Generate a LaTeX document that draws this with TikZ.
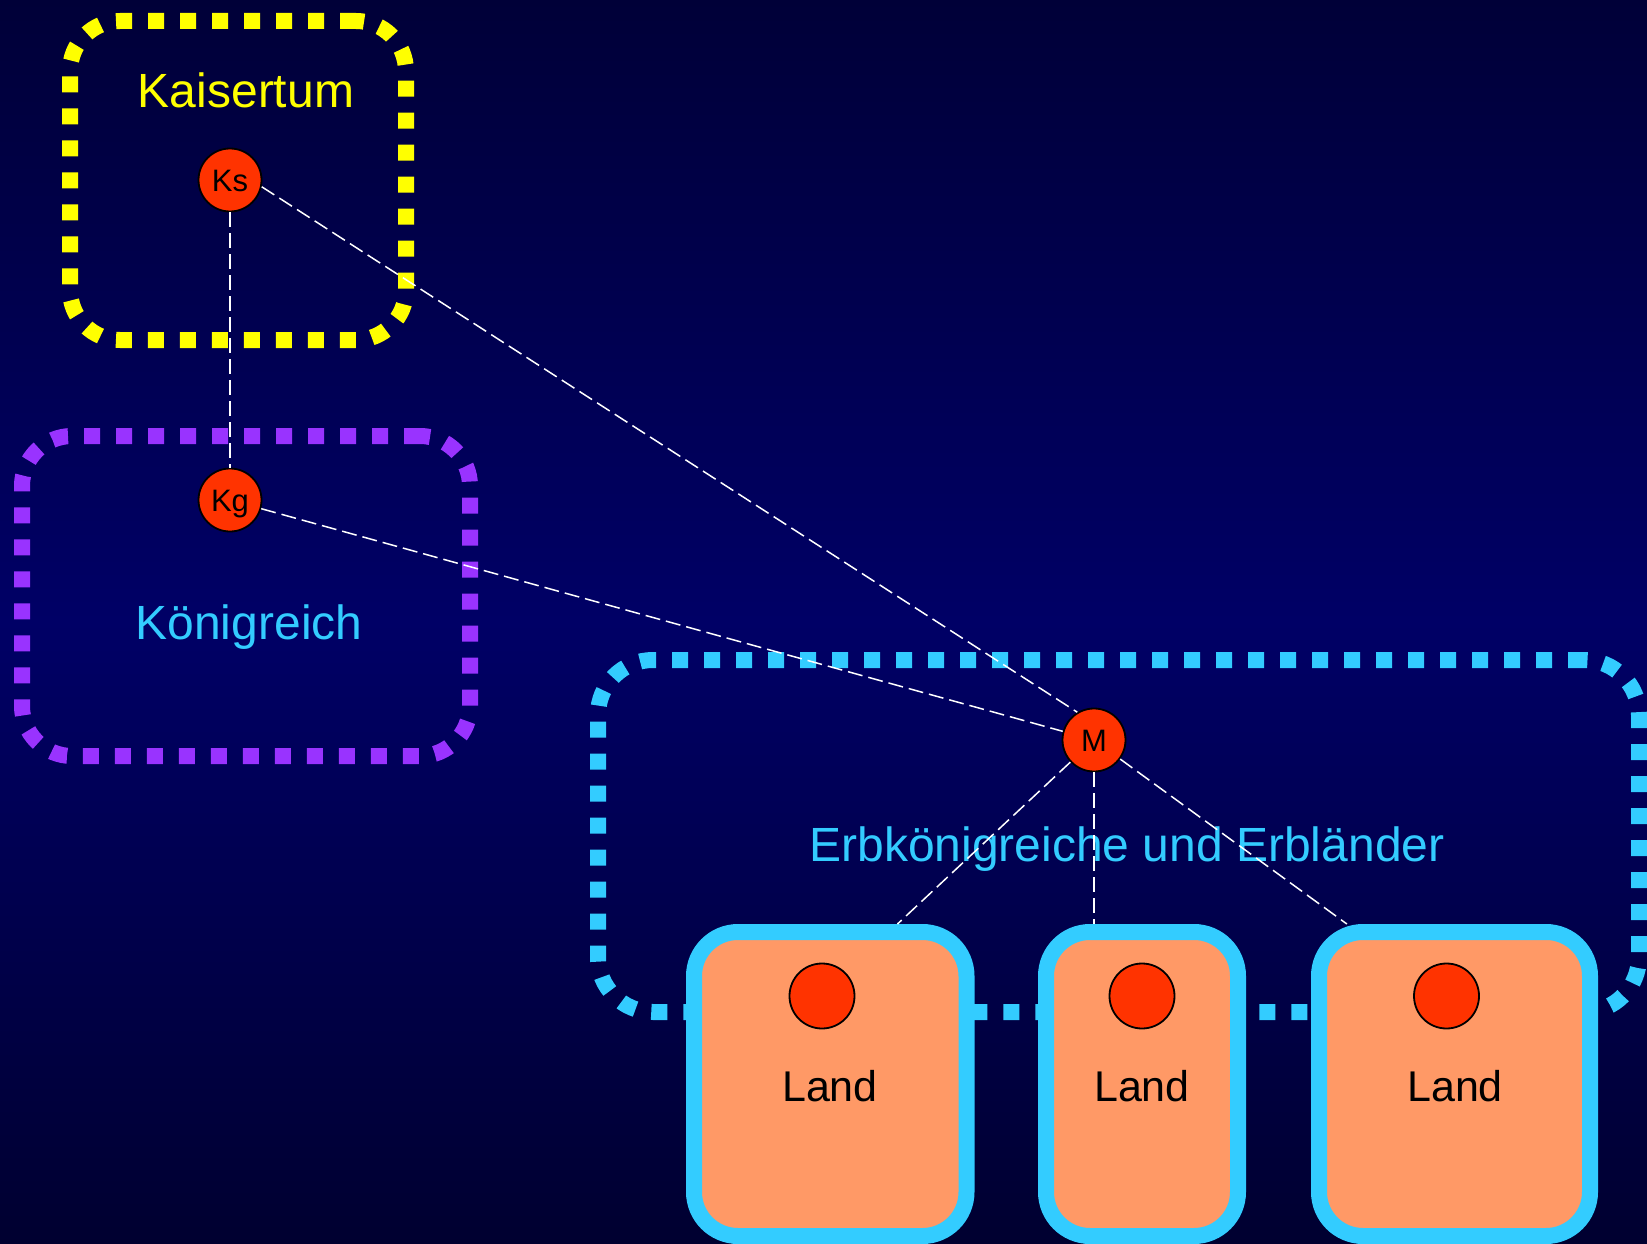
\documentclass[tikz,border=0pt]{standalone}
\usepackage{fontspec}
\setmainfont{Liberation Sans}
\usetikzlibrary{calc}
\definecolor{bgtop}{HTML}{000038}
\definecolor{bgmid}{HTML}{000066}
\definecolor{bgbot}{HTML}{000030}
\definecolor{yellowc}{HTML}{FFFF00}
\definecolor{purplec}{HTML}{9933FF}
\definecolor{cyanc}{HTML}{33CCFF}
\definecolor{redc}{HTML}{FF3300}
\definecolor{salmonc}{HTML}{FF9966}
\begin{document}
\begin{tikzpicture}[x=1pt,y=-1pt,
  dotbox/.style={draw, line width=16pt, dash pattern=on 16pt off 16pt, inner sep=0pt, outer sep=0pt},
  landbox/.style={draw=cyanc, fill=salmonc, line width=16pt, rounded corners=44pt, inner sep=0pt, minimum height=304pt},
  dot/.style={circle, fill=redc, draw=black, line width=1.8pt, inner sep=0pt},
  person/.style={dot, minimum size=63pt, font=\fontsize{31}{36}\selectfont, text height=22pt, text depth=0pt},
  lbl/.style={font=\fontsize{48}{56}\selectfont, anchor=base, inner sep=0pt},
  landlbl/.style={font=\fontsize{43}{50}\selectfont, anchor=base, inner sep=0pt, text=black},
  conn/.style={draw=white, line width=1.5pt, dash pattern=on 15pt off 6pt}]
\useasboundingbox (0,0) rectangle (1647,1244);
\clip (0,0) rectangle (1647,1244);
\shade[top color=bgtop, bottom color=bgbot, middle color=bgmid] (0,0) rectangle (1647,1244);

% dotted container boxes
\node[dotbox, draw=yellowc, rounded corners=50pt, minimum width=336pt, minimum height=319pt] (kaiser) at (238,180.5) {};
\node[dotbox, draw=purplec, rounded corners=50pt, minimum width=448pt, minimum height=320pt] (koenig) at (246,596) {};
\node[dotbox, draw=cyanc, rounded corners=55pt, minimum width=1041pt, minimum height=352pt] (erb) at (1118.5,836) {};

% labels
\node[lbl, text=yellowc] (tkaiser) at (246,108) {Kaisertum};
\node[lbl, text=cyanc] (tkoenig) at (249,639) {Königreich};
\node[lbl, text=cyanc] (terb) at (1127,861) {Erbkönigreiche und Erbländer};

% land boxes
\node[landbox, minimum width=272.5pt] (land1) at (830.25,1084) {};
\node[landbox, minimum width=192pt] (land2) at (1142,1084) {};
\node[landbox, minimum width=271pt] (land3) at (1454.5,1084) {};
\node[dot, minimum size=65pt] (d1) at (822,996) {};
\node[dot, minimum size=65pt] (d2) at (1142,996) {};
\node[dot, minimum size=65pt] (d3) at (1446.5,996) {};
\node[landlbl] (l1) at (830,1101) {Land};
\node[landlbl] (l2) at (1142,1101) {Land};
\node[landlbl] (l3) at (1455,1101) {Land};

% persons
\node[person] (Ks) at (230,180) {Ks};
\node[person] (Kg) at (230,500) {Kg};
\node[person] (M) at (1094,740) {M};

% connectors
\coordinate (e1) at ($(land1.north west)!0.733!(land1.north east)$);
\coordinate (e2) at (M |- land2.north);
\coordinate (e3) at ($(land3.north west)!0.125!(land3.north east)$);
\draw[conn] (Ks) -- (Kg);
\draw[conn] (Ks.-12) -- (M.121);
\draw[conn] (Kg) -- (M);
\draw[conn] (M) -- (e1);
\draw[conn] (M) -- (e2);
\draw[conn] (M) -- (e3);
\end{tikzpicture}
\end{document}
